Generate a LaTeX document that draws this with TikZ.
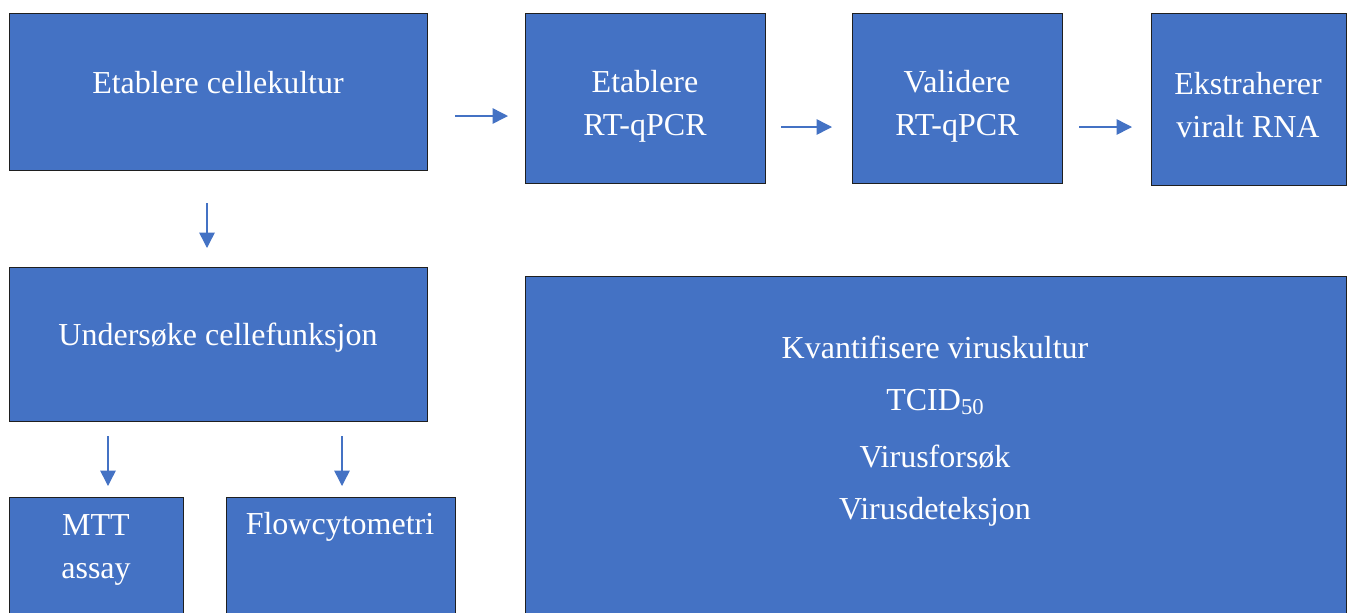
\documentclass[tikz,border=0pt]{standalone}
\usepackage{fontspec}
\setmainfont{Liberation Serif}
\usetikzlibrary{arrows.meta}
\definecolor{boxblue}{HTML}{4472C4}
\definecolor{boxedge}{HTML}{1F1F1F}
\tikzset{
  box/.style={draw=boxedge, line width=1pt, fill=boxblue, rectangle, inner sep=0pt},
  txt/.style={text=white, font=\fontsize{24}{32}\selectfont, align=center, inner sep=0pt},
  arr/.style={draw=boxblue, line width=1.1pt, -{Triangle[length=11.5pt,width=11.5pt]}}
}
\begin{document}
\begin{tikzpicture}[x=0.75pt,y=-0.75pt]
\clip (0,0) rectangle (1352,612);
\fill[white] (0,0) rectangle (1352,612);
% boxes
\node[box, minimum width=418*0.75pt, minimum height=157*0.75pt, anchor=north west] (A) at (9,13) {};
\node[box, minimum width=240*0.75pt, minimum height=170*0.75pt, anchor=north west] (B) at (525,13) {};
\node[box, minimum width=210*0.75pt, minimum height=170*0.75pt, anchor=north west] (C) at (852,13) {};
\node[box, minimum width=195*0.75pt, minimum height=172*0.75pt, anchor=north west] (D) at (1151,13) {};
\node[box, minimum width=418*0.75pt, minimum height=154*0.75pt, anchor=north west] (E) at (9,267) {};
\node[box, minimum width=821*0.75pt, minimum height=370*0.75pt, anchor=north west] (F) at (525,276) {};
\node[box, minimum width=174*0.75pt, minimum height=150*0.75pt, anchor=north west] (G) at (9,497) {};
\node[box, minimum width=229*0.75pt, minimum height=150*0.75pt, anchor=north west] (H) at (226,497) {};
% texts
\node[txt] (tA) at (218,83) {Etablere cellekultur};
\node[txt] (tB) at (645,106) {Etablere\\RT-qPCR};
\node[txt] (tC) at (957,106) {Validere\\RT-qPCR};
\node[txt] (tD) at (1248,105) {Ekstraherer\\viralt RNA};
\node[txt] (tE) at (218,338) {Undersøke cellefunksjon};
\node[txt] (tG) at (96,550) {MTT\\assay};
\node[txt] (tH) at (340,527) {Flowcytometri};
\node[txt] (tF1) at (935,347) {Kvantifisere viruskultur};
\node[txt] (tF2) at (935,402) {TCID{\fontsize{17}{17}\selectfont\raisebox{-3.5pt}{50}}};
\node[txt] (tF3) at (935,457) {Virusforsøk};
\node[txt] (tF4) at (935,512) {Virusdeteksjon};
% connectors
\coordinate (ab1) at (455,116); \coordinate (ab2) at (508,116);
\coordinate (bc1) at (781,127); \coordinate (bc2) at (832,127);
\coordinate (cd1) at (1079,127); \coordinate (cd2) at (1132,127);
\coordinate (ae1) at (207,203); \coordinate (ae2) at (207,248);
\coordinate (eg1) at (108,436); \coordinate (eg2) at (108,486);
\coordinate (eh1) at (342,436); \coordinate (eh2) at (342,486);
\draw[arr] (ab1) -- (ab2);
\draw[arr] (bc1) -- (bc2);
\draw[arr] (cd1) -- (cd2);
\draw[arr] (ae1) -- (ae2);
\draw[arr] (eg1) -- (eg2);
\draw[arr] (eh1) -- (eh2);
\end{tikzpicture}
\end{document}
